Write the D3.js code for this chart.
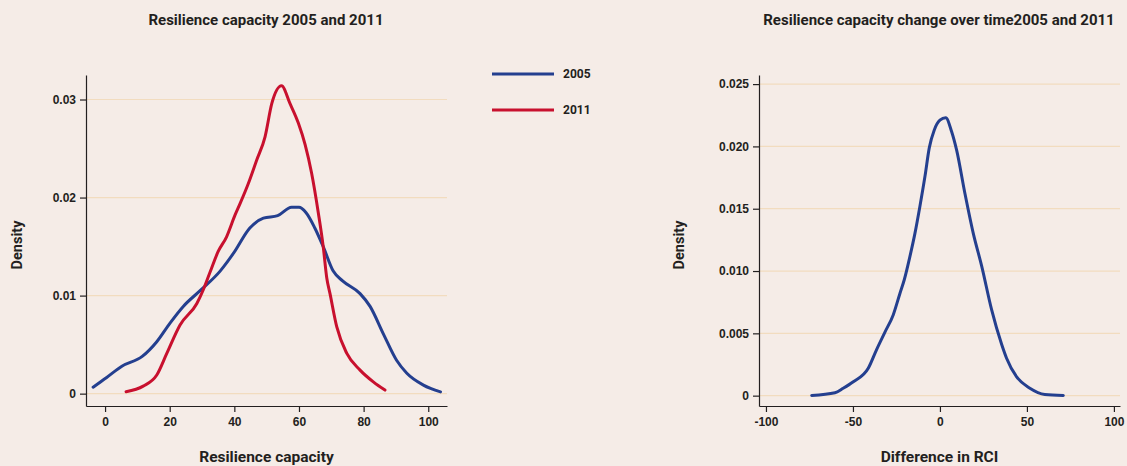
<!DOCTYPE html>
<html>
<head>
<meta charset="utf-8">
<script src="https://cdn.jsdelivr.net/npm/d3@7"></script>
<style>
  html, body { margin: 0; padding: 0; background: #f5ece7; }
  svg { display: block; font-family: Roboto, "Liberation Sans", Arial, sans-serif; }
  .tick text { font-weight: 700; fill: #231f20; font-size: 12px; }
  .title, .axis-label, .legend text { font-weight: 700; fill: #231f20; }
</style>
</head>
<body>
<svg id="chart" width="1127" height="466"></svg>
<script>
// Kernel density estimates, read as [value, density] pairs
const rc2005 = [
  [-3.7, 0.00066], [0.5, 0.00165], [5.2, 0.0028], [11.5, 0.0038], [16, 0.0053],
  [20.1, 0.0072], [24.2, 0.0089], [29.4, 0.0105], [35.6, 0.0125], [39.7, 0.0143],
  [44.8, 0.0169], [49, 0.0179], [53.4, 0.01815], [57.7, 0.0190], [60, 0.0190],
  [62.2, 0.01845], [64.9, 0.0169], [67.5, 0.0150], [70.6, 0.0125], [73.5, 0.0115],
  [78.9, 0.0102], [82, 0.0089], [86.1, 0.0061], [90.2, 0.0034], [93.3, 0.0021],
  [98.5, 0.00087], [103.8, 0.00018]
];
const rc2011 = [
  [6.5, 0.0002], [11.8, 0.00077], [16, 0.0019], [19.1, 0.0041], [23.2, 0.0070],
  [28.4, 0.0092], [30.4, 0.0106], [32.5, 0.0124], [35, 0.0145], [37.6, 0.0160],
  [40.2, 0.0182], [41.8, 0.0194], [44.3, 0.0214], [46.9, 0.0238], [49.5, 0.0262],
  [51.6, 0.0296], [54.6, 0.0314], [57.2, 0.0296], [59.8, 0.0276], [61.9, 0.0254],
  [63.9, 0.0225], [66, 0.0184], [67.5, 0.0150], [68.6, 0.0118], [69.6, 0.0102],
  [71.7, 0.0068], [74.8, 0.0041], [78.9, 0.0024], [83, 0.0012], [86.6, 0.00036]
];
const rciDiff = [
  [-73.7, 0.00002], [-60.3, 0.00024], [-55.6, 0.0006], [-49.8, 0.00112], [-41.2, 0.0022],
  [-36.4, 0.0037], [-31.6, 0.0051], [-26.8, 0.0065], [-23, 0.0082], [-20.5, 0.0093],
  [-17.2, 0.0112], [-14.4, 0.0130], [-11.5, 0.0152], [-8.6, 0.0176], [-6.1, 0.0199],
  [-3.3, 0.0213], [0, 0.0221], [3.3, 0.0223], [6.7, 0.0212], [9.6, 0.0197],
  [14.4, 0.0162], [19.2, 0.0130], [24, 0.0104], [29.7, 0.0069], [35.5, 0.0041],
  [38.3, 0.0030], [44.1, 0.0015], [51.7, 0.0006], [60.3, 0.0001], [70.9, 0.00002]
];

const leftXTicks = [0, 20, 40, 60, 80, 100];
const leftYTicks = [0, 0.01, 0.02, 0.03];
const rightXTicks = [-100, -50, 0, 50, 100];
const rightYTicks = [0, 0.005, 0.010, 0.015, 0.020, 0.025];

const seriesNames = ["2005", "2011"];
const seriesColors = ["#243f8f", "#c8102e"];

const svg = d3.select("#chart");
const gridColor = "#f2dcbf";
const axisColor = "#231f20";

function panel(opts) {
  const g = svg.append("g");
  const x = d3.scaleLinear().domain(opts.xDomain).range([opts.left, opts.right]);
  const y = d3.scaleLinear().domain(opts.yDomain).range([opts.bottom, opts.top]);

  // horizontal gridlines
  g.append("g").selectAll("line").data(opts.yTicks).join("line")
    .attr("x1", opts.left).attr("x2", opts.right)
    .attr("y1", d => y(d)).attr("y2", d => y(d))
    .attr("stroke", gridColor).attr("stroke-width", 1.2);

  const xAxis = g.append("g")
    .attr("transform", `translate(0,${opts.bottom})`)
    .call(d3.axisBottom(x).tickValues(opts.xTicks).tickSizeInner(6).tickSizeOuter(0)
      .tickPadding(5).tickFormat(d => String(d)));
  const yAxis = g.append("g")
    .attr("transform", `translate(${opts.left},0)`)
    .call(d3.axisLeft(y).tickValues(opts.yTicks).tickSizeInner(6).tickSizeOuter(0)
      .tickPadding(4).tickFormat(opts.yFormat));
  [xAxis, yAxis].forEach(a => {
    a.select(".domain").attr("stroke", axisColor).attr("stroke-width", 1.2);
    a.selectAll(".tick line").attr("stroke", axisColor).attr("stroke-width", 1.2);
  });

  const line = d3.line().x(d => x(d[0])).y(d => y(d[1])).curve(d3.curveMonotoneX);
  opts.series.forEach(s => {
    g.append("path").datum(s.data)
      .attr("fill", "none").attr("stroke", s.color)
      .attr("stroke-width", 3).attr("stroke-linejoin", "round").attr("stroke-linecap", "round")
      .attr("d", line);
  });

  g.append("text").attr("class", "title")
    .attr("x", opts.titleX).attr("y", 25).attr("text-anchor", "middle")
    .attr("font-size", 15).text(opts.title);
  g.append("text").attr("class", "axis-label")
    .attr("x", (opts.left + opts.right) / 2).attr("y", 462)
    .attr("text-anchor", "middle").attr("font-size", 15.5).text(opts.xLabel);
  g.append("text").attr("class", "axis-label")
    .attr("transform", `translate(${opts.yLabelX},245) rotate(-90)`)
    .attr("text-anchor", "middle").attr("font-size", 14.5).text("Density");
}

const fmtLeft = d => d === 0 ? "0" : d3.format(".2f")(d);
const fmtRight = d => d === 0 ? "0" : d3.format(".3f")(d);

panel({
  left: 86, right: 447, top: 75, bottom: 406,
  xDomain: [-5.9, 105.8], yDomain: [-0.00126, 0.0325],
  xTicks: leftXTicks, yTicks: leftYTicks, yFormat: fmtLeft,
  series: [
    { data: rc2005, color: seriesColors[0] },
    { data: rc2011, color: seriesColors[1] }
  ],
  title: "Resilience capacity 2005 and 2011", titleX: 266,
  xLabel: "Resilience capacity", yLabelX: 22
});

panel({
  left: 759, right: 1120, top: 75, bottom: 406,
  xDomain: [-104, 103.5], yDomain: [-0.00083, 0.02573],
  xTicks: rightXTicks, yTicks: rightYTicks, yFormat: fmtRight,
  series: [{ data: rciDiff, color: seriesColors[0] }],
  title: "Resilience capacity change over time2005 and 2011", titleX: 939,
  xLabel: "Difference in RCI", yLabelX: 684
});

// legend
const legend = svg.append("g").attr("class", "legend");
seriesNames.forEach((name, i) => {
  const yPos = 74 + i * 36;
  legend.append("line").attr("x1", 492).attr("x2", 554).attr("y1", yPos).attr("y2", yPos)
    .attr("stroke", seriesColors[i]).attr("stroke-width", 3);
  legend.append("text").attr("x", 563).attr("y", yPos + 4).attr("font-size", 12).text(name);
});
</script>
</body>
</html>
